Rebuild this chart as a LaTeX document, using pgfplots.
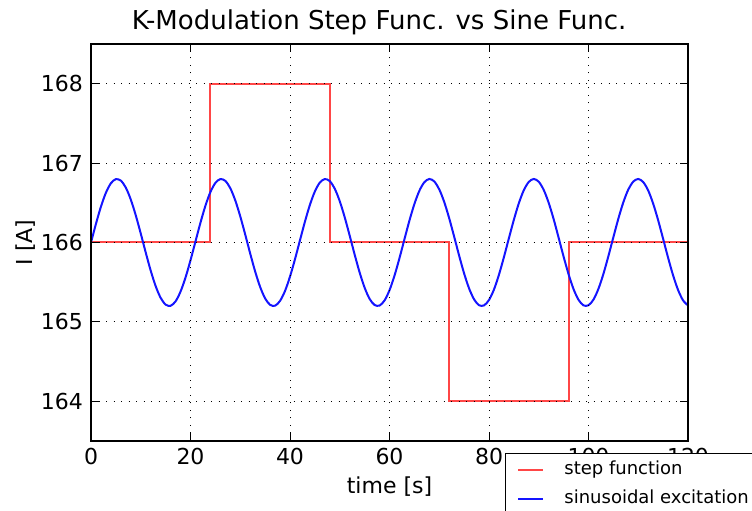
\documentclass[border=0pt]{standalone}
\usepackage{pgfplots}
\usepackage{pgfplotstable}
\pgfplotsset{compat=1.18}
\usepackage{fontspec}
\setmainfont{DejaVu Sans}

\definecolor{stepred}{RGB}{255,70,70}
\definecolor{sineblue}{RGB}{20,20,255}

% step function
\pgfplotstableread{
t I
0 166
24 166
24 168
48 168
48 166
72 166
72 164
96 164
96 166
120 166
}\stepdata

% sinusoidal excitation, sampled every 1 s
\pgfplotstableread{
t I
0 166.000
1 166.236
2 166.452
3 166.627
4 166.746
5 166.798
6 166.779
7 166.691
8 166.540
9 166.342
10 166.113
11 165.874
12 165.646
13 165.450
14 165.303
15 165.218
16 165.203
17 165.259
18 165.382
19 165.559
20 165.776
21 166.013
22 166.249
23 166.463
24 166.635
25 166.750
26 166.799
27 166.776
28 166.684
29 166.530
30 166.330
31 166.100
32 165.861
33 165.634
34 165.440
35 165.296
36 165.215
37 165.204
38 165.265
39 165.390
40 165.571
41 165.789
42 166.027
43 166.262
44 166.474
45 166.643
46 166.755
47 166.799
48 166.773
49 166.677
50 166.520
51 166.317
52 166.086
53 165.847
54 165.622
55 165.431
56 165.290
57 165.213
58 165.206
59 165.270
60 165.399
61 165.582
62 165.802
63 166.040
64 166.275
65 166.484
66 166.651
67 166.759
68 166.800
69 166.769
70 166.669
71 166.510
72 166.305
73 166.073
74 165.834
75 165.610
76 165.421
77 165.284
78 165.210
79 165.208
80 165.276
81 165.408
82 165.594
83 165.816
84 166.054
85 166.287
86 166.495
87 166.659
88 166.763
89 166.800
90 166.765
91 166.662
92 166.499
93 166.293
94 166.059
95 165.821
96 165.599
97 165.412
98 165.278
99 165.208
100 165.210
101 165.281
102 165.417
103 165.605
104 165.829
105 166.067
106 166.300
107 166.506
108 166.667
109 166.767
110 166.800
111 166.761
112 166.655
113 166.489
114 166.280
115 166.046
116 165.808
117 165.587
118 165.403
119 165.272
120 165.207
}\sinedata

\begin{document}
\begin{tikzpicture}
\path[use as bounding box] (0bp,0bp) rectangle (752bp,511bp);
\begin{axis}[
    at={(91bp,70bp)}, anchor=south west,
    scale only axis, width=597bp, height=397bp,
    xmin=0, xmax=120, ymin=163.5, ymax=168.5,
    xtick={0,20,...,120}, ytick={164,165,...,168},
    axis on top,
    tick align=inside, major tick length=8bp,
    major tick style={black, line width=1bp},
    axis line style={black, line width=1.3bp},
    grid=major,
    major grid style={black, line width=0.8bp, dash pattern=on 1bp off 6.5bp},
    /pgf/number format/assume math mode=true,
    ticklabel style={font=\fontsize{22bp}{26bp}\selectfont, inner sep=0pt},
    xticklabel style={anchor=north, yshift=-7bp},
    yticklabel style={anchor=east, xshift=-8bp},
    title={K-Modulation Step Func. vs Sine Func.},
    title style={at={(axis description cs:0.4824,1)}, anchor=base, yshift=9bp,
        inner sep=0pt, font=\fontsize{26bp}{30bp}\selectfont},
    xlabel={time [s]},
    xlabel style={at={(axis description cs:0.5,-0.131)}, anchor=base,
        inner sep=0pt, font=\fontsize{22bp}{26bp}\selectfont},
    ylabel={I [A]},
    ylabel style={at={(axis description cs:-0.0988,0.5)}, anchor=base,
        inner sep=0pt, font=\fontsize{22bp}{26bp}\selectfont},
    legend cell align=left,
    legend image code/.code={\draw[#1] (0bp,0bp) -- (25bp,0bp);},
    legend style={at={(axis description cs:0.6935,-0.0302)}, anchor=north west,
        draw=black, line width=0.8bp, fill=white,
        font=\fontsize{18bp}{22bp}\selectfont,
        inner xsep=12bp, inner ysep=9bp, row sep=13bp, column sep=20bp,
        nodes={inner sep=0pt, text height=12bp, text depth=4bp}},
]
\addplot[stepred, line width=2bp] table[x=t, y=I] {\stepdata};
\addlegendentry{step function}
\addplot[sineblue, line width=2bp, smooth] table[x=t, y=I] {\sinedata};
\addlegendentry{sinusoidal excitation}
\end{axis}
\end{tikzpicture}
\end{document}
